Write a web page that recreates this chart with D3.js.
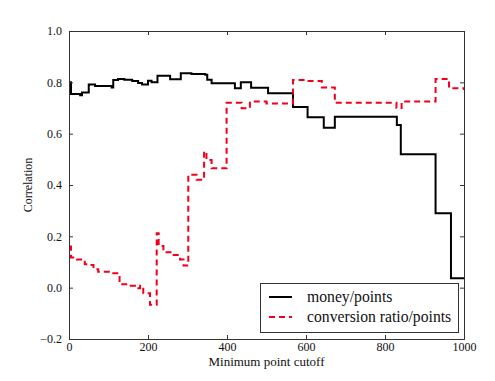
<!DOCTYPE html>
<html>
  <head>
    <meta charset="utf-8">
    <title>Correlation vs minimum point cutoff</title>
    <script src="https://d3js.org/d3.v7.min.js"></script>
    <style>
      body { margin: 0; background: white; }
      text { font-family: "Liberation Serif", "DejaVu Serif", serif; fill: #111; }
    </style>
  </head>

  <body>
    <script>
      // step points (cutoff, correlation)
      var moneyX = [0, 5, 28, 33, 50, 66, 108, 112, 124, 140, 160, 175, 185, 200, 209, 224, 256, 283, 310, 345, 350, 361, 420, 435, 461, 504, 567, 604, 645, 673, 830, 840, 928, 967, 1000];
      var moneyY = [0.80, 0.755, 0.75, 0.76, 0.792, 0.786, 0.78, 0.809, 0.813, 0.81, 0.805, 0.797, 0.792, 0.806, 0.80, 0.826, 0.812, 0.835, 0.832, 0.83, 0.81, 0.796, 0.777, 0.80, 0.779, 0.757, 0.704, 0.664, 0.623, 0.666, 0.634, 0.52, 0.29, 0.037, 0.037];

      var convX = [0, 5, 20, 40, 53, 62, 74, 104, 128, 150, 167, 180, 188, 205, 222, 227, 239, 260, 281, 290, 302, 323, 342, 348, 361, 399, 437, 458, 500, 567, 600, 640, 673, 829, 842, 928, 962, 1000];
      var convY = [0.16, 0.118, 0.11, 0.091, 0.088, 0.072, 0.062, 0.056, 0.013, 0.007, -0.002, 0.007, -0.022, -0.067, 0.212, 0.162, 0.138, 0.127, 0.11, 0.086, 0.44, 0.42, 0.53, 0.497, 0.465, 0.72, 0.699, 0.725, 0.718, 0.809, 0.805, 0.78, 0.72, 0.70, 0.725, 0.813, 0.777, 0.77];

      var xTicks = [0, 200, 400, 600, 800, 1000];
      var yTicks = [-0.2, 0.0, 0.2, 0.4, 0.6, 0.8, 1.0];
      var seriesNames = ["money/points", "conversion ratio/points"];

      var width = 495, height = 381;
      var plotLeft = 69, plotRight = 464, plotTop = 31, plotBottom = 339;

      var svg = d3.select("body")
        .append("svg")
          .attr("width", width)
          .attr("height", height);

      var x = d3.scaleLinear().domain([0, 1000]).range([plotLeft, plotRight]);
      var y = d3.scaleLinear().domain([-0.2, 1.0]).range([plotBottom, plotTop]);

      var line = d3.line()
          .x(d => x(d[0]))
          .y(d => y(d[1]))
          .curve(d3.curveStepAfter);

      svg.append("clipPath").attr("id", "plot")
        .append("rect")
          .attr("x", plotLeft).attr("y", plotTop)
          .attr("width", plotRight - plotLeft).attr("height", plotBottom - plotTop);

      var plot = svg.append("g").attr("clip-path", "url(#plot)");

      plot.append("path")
          .datum(d3.zip(moneyX, moneyY))
          .attr("d", line)
          .style("fill", "none")
          .style("stroke", "black")
          .style("stroke-width", 2);

      plot.append("path")
          .datum(d3.zip(convX, convY))
          .attr("d", line)
          .style("fill", "none")
          .style("stroke", "#f0001a")
          .style("stroke-width", 2)
          .style("stroke-dasharray", "6,4");

      // axes, ticks pointing inward on all four sides
      var fmt = d => d3.format(".1f")(d).replace("-", "\u2212");

      svg.append("g")
          .attr("transform", "translate(0," + plotBottom + ")")
          .call(d3.axisBottom(x).tickValues(xTicks).tickSize(-4).tickPadding(3).tickFormat(d3.format("d")));
      svg.append("g")
          .attr("transform", "translate(0," + plotTop + ")")
          .call(d3.axisTop(x).tickValues(xTicks).tickSize(-4).tickFormat(""));
      svg.append("g")
          .attr("transform", "translate(" + plotLeft + ",0)")
          .call(d3.axisLeft(y).tickValues(yTicks).tickSize(-4).tickPadding(7).tickFormat(fmt));
      svg.append("g")
          .attr("transform", "translate(" + plotRight + ",0)")
          .call(d3.axisRight(y).tickValues(yTicks).tickSize(-4).tickFormat(""));

      svg.selectAll(".domain").style("stroke", "#333");
      svg.selectAll(".tick line").style("stroke", "#333");
      svg.selectAll(".tick text")
          .style("font-family", "'Liberation Serif', serif")
          .style("font-size", "12px")
          .style("fill", "#111");

      svg.append("text")
          .attr("x", (plotLeft + plotRight) / 2)
          .attr("y", 366)
          .attr("text-anchor", "middle")
          .style("font-size", "13px")
          .text("Minimum point cutoff");

      svg.append("text")
          .attr("transform", "translate(32," + (plotTop + plotBottom) / 2 + ") rotate(-90)")
          .attr("text-anchor", "middle")
          .style("font-size", "12px")
          .text("Correlation");

      // legend
      var lg = svg.append("g");
      lg.append("rect")
          .attr("x", 260.5).attr("y", 283.5)
          .attr("width", 198).attr("height", 49)
          .style("fill", "white")
          .style("stroke", "#333");

      var rows = lg.selectAll("g.row")
        .data(seriesNames)
        .enter()
        .append("g")
          .attr("transform", (d, i) => "translate(269," + (297 + 20 * i) + ")");

      rows.append("line")
          .attr("x1", 0).attr("x2", 23)
          .style("stroke", (d, i) => i == 0 ? "black" : "#f0001a")
          .style("stroke-width", 2)
          .style("stroke-dasharray", (d, i) => i == 0 ? null : "6,4");

      rows.append("text")
          .attr("x", 38)
          .attr("y", 5)
          .style("font-size", "15.7px")
          .text(d => d);
    </script>
  </body>
</html>
